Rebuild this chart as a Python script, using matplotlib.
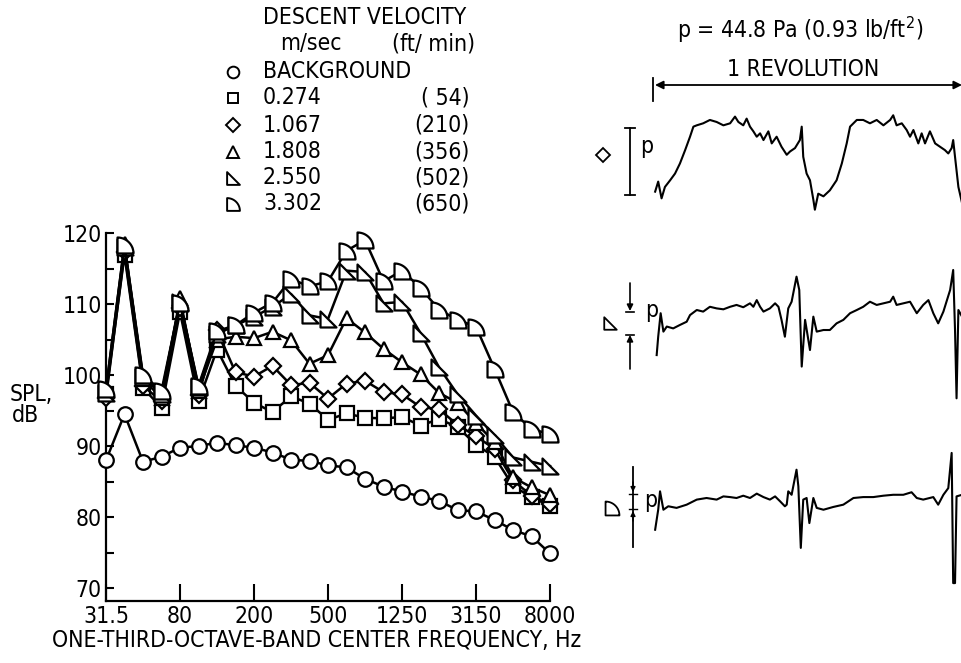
import numpy as np
import matplotlib
matplotlib.use('Agg')
import matplotlib.pyplot as plt
from matplotlib.path import Path

plt.rcParams['font.family'] = ['DejaVu Sans']
plt.rcParams['font.stretch'] = 'condensed'

# ---------------- data ----------------
bands = ['31.5', '40', '50', '63', '80', '100', '125', '160', '200', '250', '315', '400', '500',
         '630', '800', '1000', '1250', '1600', '2000', '2500', '3150', '4000', '5000', '6300', '8000']
tick_labels = ['31.5', '80', '200', '500', '1250', '3150', '8000']

spl_background = [88.0, 94.5, 87.8, 88.5, 89.8, 90.0, 90.5, 90.1, 89.8, 89.1, 88.1, 87.9, 87.3,
                  87.0, 85.4, 84.3, 83.6, 82.9, 82.3, 81.0, 80.8, 79.6, 78.2, 77.3, 74.9]
spl_v0274 = [97.3, 116.9, 98.2, 95.4, 108.9, 96.3, 103.6, 98.5, 96.1, 94.8, 97.0, 96.0, 93.7,
             94.6, 94.0, 93.9, 94.1, 92.9, 93.8, 92.7, 90.2, 88.5, 84.4, 82.8, 81.6]
spl_v1067 = [96.8, 117.3, 98.5, 96.3, 109.5, 97.2, 106.3, 100.4, 99.8, 101.3, 98.6, 98.9, 96.7,
             98.8, 99.2, 97.6, 97.3, 95.5, 95.2, 93.0, 91.4, 89.6, 85.2, 83.0, 81.9]
spl_v1808 = [98.0, 118.4, 99.4, 96.8, 110.8, 97.8, 105.0, 105.4, 105.2, 106.1, 104.9, 101.6, 102.8,
             108.0, 106.0, 103.7, 101.8, 100.1, 97.5, 96.1, 93.2, 90.6, 85.6, 84.2, 83.1]
spl_v2550 = [97.5, 118.0, 99.8, 97.3, 110.3, 98.3, 105.8, 107.0, 108.2, 109.6, 111.4, 108.4, 107.9,
             114.7, 114.5, 110.1, 110.3, 105.9, 101.1, 97.3, 94.3, 91.5, 88.4, 87.8, 87.2]
spl_v3302 = [98.0, 118.3, 100.0, 97.8, 110.2, 98.5, 106.2, 107.0, 108.8, 110.2, 113.5, 112.5, 113.2,
             117.5, 119.0, 113.2, 114.7, 112.3, 109.2, 107.8, 106.8, 100.9, 94.8, 92.4, 91.7]

legend_ms = ['BACKGROUND', '0.274', '1.067', '1.808', '2.550', '3.302']
legend_ft = ['', '( 54)', '(210)', '(356)', '(502)', '(650)']

# pressure traces (time in revolutions, pressure in units of p)
t_diamond = [0.007, 0.017, 0.028, 0.039, 0.056, 0.072, 0.088, 0.105, 0.121, 0.132, 0.143, 0.164, 0.186,
             0.208, 0.230, 0.252, 0.268, 0.279, 0.295, 0.306, 0.317, 0.328, 0.339, 0.350, 0.361, 0.377,
             0.388, 0.404, 0.420, 0.437, 0.448, 0.464, 0.480, 0.486, 0.491, 0.502, 0.513, 0.524, 0.529,
             0.540, 0.557, 0.578, 0.600, 0.617, 0.633, 0.644, 0.666, 0.687, 0.709, 0.731, 0.753, 0.775,
             0.785, 0.796, 0.813, 0.829, 0.840, 0.851, 0.867, 0.878, 0.889, 0.905, 0.922, 0.938, 0.954,
             0.965, 0.976, 0.981, 0.987, 0.998, 1.010]
p_diamond = [0.05, 0.20, -0.05, 0.12, 0.22, 0.32, 0.47, 0.67, 0.87, 1.02, 1.04, 1.07, 1.12,
             1.09, 1.04, 1.07, 1.17, 1.09, 1.04, 1.14, 1.02, 0.95, 0.87, 0.92, 0.82, 0.95,
             0.77, 0.87, 0.72, 0.60, 0.65, 0.70, 0.82, 1.02, 0.57, 0.32, 0.22, -0.07, -0.22,
             0.02, -0.02, 0.07, 0.22, 0.47, 0.77, 1.02, 1.12, 1.12, 1.07, 1.12, 1.04, 1.12,
             1.19, 1.04, 1.07, 0.97, 0.87, 0.97, 0.77, 0.92, 0.77, 0.95, 0.77, 0.72, 0.67,
             0.62, 0.70, 0.82, 0.57, 0.12, -0.12]

t_rtri = [0.012, 0.017, 0.025, 0.034, 0.045, 0.066, 0.088, 0.110, 0.121, 0.143, 0.164, 0.186, 0.208,
          0.230, 0.252, 0.273, 0.295, 0.317, 0.328, 0.339, 0.350, 0.361, 0.382, 0.399, 0.410, 0.420,
          0.431, 0.442, 0.453, 0.469, 0.478, 0.486, 0.497, 0.513, 0.524, 0.535, 0.557, 0.578, 0.600,
          0.622, 0.644, 0.666, 0.687, 0.709, 0.731, 0.753, 0.775, 0.785, 0.796, 0.818, 0.840, 0.862,
          0.883, 0.900, 0.916, 0.932, 0.949, 0.971, 0.981, 0.987, 0.992, 0.998, 1.010]
p_rtri = [-1.96, -1.16, -0.14, -0.94, -0.72, -0.80, -0.65, -0.51, -0.22, 0.00, -0.07, 0.14, 0.07,
          0.03, 0.14, 0.22, 0.12, 0.29, 0.14, 0.43, 0.14, -0.07, 0.07, 0.29, 0.14, -0.43,
          -1.16, 0.07, 0.36, 1.45, 0.87, -2.46, -0.43, -1.74, -0.29, -0.94, -0.87, -0.87, -0.58,
          -0.43, -0.14, 0.00, 0.14, 0.36, 0.22, 0.29, 0.36, 0.58, 0.22, 0.29, 0.36, -0.14,
          0.22, 0.43, -0.14, -0.58, -0.07, 0.87, 1.74, -0.87, -3.84, 0.00, -0.29]

t_semi = [0.007, 0.017, 0.023, 0.034, 0.050, 0.077, 0.110, 0.143, 0.175, 0.208, 0.230, 0.252, 0.273,
          0.295, 0.317, 0.339, 0.361, 0.382, 0.399, 0.415, 0.431, 0.437, 0.442, 0.453, 0.469, 0.475,
          0.483, 0.491, 0.502, 0.511, 0.524, 0.535, 0.557, 0.589, 0.622, 0.655, 0.687, 0.720, 0.753,
          0.785, 0.818, 0.845, 0.862, 0.883, 0.916, 0.932, 0.949, 0.965, 0.976, 0.981, 0.987, 0.992,
          1.010]
p_semi = [-1.38, -0.51, 0.29, -0.51, -0.36, -0.43, -0.29, -0.07, 0.00, -0.07, 0.07, 0.04, 0.00,
          0.10, 0.00, 0.19, 0.04, -0.07, 0.07, -0.14, -0.36, -0.29, 0.29, 0.14, 1.23, 0.51,
          -2.17, -0.07, 0.00, -1.09, 0.00, -0.43, -0.51, -0.39, -0.29, 0.00, 0.04, 0.04, 0.10,
          0.14, 0.14, 0.25, 0.00, -0.07, 0.04, -0.29, 0.14, 0.43, 1.96, -3.70, -3.70, 0.07,
          0.14]

# ---------------- markers ----------------
rtri_marker = Path([(-1, -1), (1, -1), (-1, 1), (-1, -1)],
                   [Path.MOVETO, Path.LINETO, Path.LINETO, Path.CLOSEPOLY])
ang = np.linspace(np.pi / 2, 0, 20)
semi_verts = [(-1, -1)] + [(-1 + 2 * np.cos(a), -1 + 2 * np.sin(a)) for a in ang] + [(-1, -1)]
semi_marker = Path(semi_verts, [Path.MOVETO] + [Path.LINETO] * 20 + [Path.CLOSEPOLY])

W, H = 962, 663
fig = plt.figure(figsize=(W / 100, H / 100), dpi=100)

# overlay for annotations (pixel coordinates)
ov = fig.add_axes([0, 0, 1, 1])
ov.set_xlim(0, W)
ov.set_ylim(H, 0)
ov.axis('off')

FS = 16.5

# ---------------- left: spectra ----------------
def px_axes(x0, y0, x1, y1):
    return fig.add_axes([x0 / W, 1 - y1 / H, (x1 - x0) / W, (y1 - y0) / H])

ax = px_axes(106, 222, 550, 601)
ax.set_facecolor('none')
x = np.arange(len(bands))
series = [
    (spl_background, 'o', 10.5),
    (spl_v0274, 's', 9.5),
    (spl_v1067, 'D', 8.5),
    (spl_v1808, '^', 10.5),
    (spl_v2550, rtri_marker, 11.5),
    (spl_v3302, semi_marker, 11.5),
]
for vals, m, ms in series:
    ax.plot(x, vals, color='black', lw=1.8, marker=m, ms=ms, mfc='white', mec='black', mew=1.6,
            clip_on=False, zorder=3)

ax.set_xlim(0, 24)
ax.set_ylim(68.2, 120 + (11 / 7.1))
for s in ['top', 'right']:
    ax.spines[s].set_visible(False)
for s in ['left', 'bottom']:
    ax.spines[s].set_linewidth(1.6)
ax.spines['left'].set_bounds(68.2, 120)
ax.set_yticks([70, 80, 90, 100, 110, 120])
ax.set_yticks([75, 85, 95, 105, 115], minor=True)
ax.set_yticklabels(['70', '80', '90', '100', '110', '120'], fontsize=FS)
ax.set_xticks([bands.index(b) for b in tick_labels])
ax.set_xticklabels(tick_labels, fontsize=FS)
ax.tick_params(axis='y', which='major', direction='in', length=6, width=1.5, pad=3)
ax.tick_params(axis='y', which='minor', direction='in', length=6, width=1.5)
ax.tick_params(axis='x', which='major', direction='in', length=12, width=1.5, pad=3)

ov.text(10, 394, 'SPL,', fontsize=FS, ha='left', va='center')
ov.text(12, 415, 'dB', fontsize=FS, ha='left', va='center')
ov.text(317, 641, 'ONE-THIRD-OCTAVE-BAND CENTER FREQUENCY, Hz', fontsize=FS, ha='center', va='center')

# legend block
ov.text(263, 17, 'DESCENT VELOCITY', fontsize=FS, ha='left', va='center')
ov.text(280, 44, 'm/sec', fontsize=FS, ha='left', va='center')
ov.text(475, 44, '(ft/ min)', fontsize=FS, ha='right', va='center')
row_y = [72, 98, 125, 152, 178, 204]
for (vals, m, ms), lab, ft, yy in zip(series, legend_ms, legend_ft, row_y):
    ov.plot([233], [yy], marker=m, ms=ms * 0.8, mfc='white', mec='black', mew=1.4, ls='none')
    ov.text(263, yy, lab, fontsize=FS, ha='left', va='center')
    if ft:
        ov.text(470, yy, ft, fontsize=FS, ha='right', va='center')

# ---------------- right: pressure traces ----------------
ov.text(800, 30, r'p = 44.8 Pa (0.93 lb/ft$^{2}$)', fontsize=FS, ha='center', va='center')
ov.text(803, 70, '1 REVOLUTION', fontsize=FS, ha='center', va='center')
ov.annotate('', xy=(655, 85), xytext=(962, 85),
            arrowprops=dict(arrowstyle='<|-|>', color='black', lw=1.3, mutation_scale=12,
                            shrinkA=0, shrinkB=0))
ov.plot([653, 653], [78, 101], color='black', lw=1.3)

traces = [
    (t_diamond, p_diamond, 195, 67, 110, 220),
    (t_rtri, p_rtri, 310, 23, 265, 410),
    (t_semi, p_semi, 498, 23, 445, 592),
]
for t, p, y0, scale, ytop, ybot in traces:
    tax = px_axes(653, ytop, 962, ybot)
    tax.set_facecolor('none')
    tax.plot(t, p, color='black', lw=1.5, clip_on=False)
    tax.set_xlim(0, (962 - 653) / 306)
    tax.set_ylim((y0 - ybot) / scale, (y0 - ytop) / scale)
    tax.axis('off')

# scale bars and symbols
# trace 1
ov.plot([630, 630], [128, 195], color='black', lw=1.3)
ov.plot([625, 635], [128, 128], color='black', lw=1.3)
ov.plot([625, 635], [195, 195], color='black', lw=1.3)
ov.text(640, 147, 'p', fontsize=FS, ha='left', va='center')
ov.plot([603], [155], marker='D', ms=7, mfc='white', mec='black', mew=1.3)
# trace 2
ov.annotate('', xy=(630, 311), xytext=(630, 283),
            arrowprops=dict(arrowstyle='-|>', color='black', lw=1.2, mutation_scale=9, shrinkA=0, shrinkB=0))
ov.annotate('', xy=(630, 335), xytext=(630, 369),
            arrowprops=dict(arrowstyle='-|>', color='black', lw=1.2, mutation_scale=9, shrinkA=0, shrinkB=0))
ov.plot([626, 634], [312, 312], color='black', lw=1.2)
ov.plot([626, 634], [335, 335], color='black', lw=1.2)
ov.text(645, 310, 'p', fontsize=FS, ha='left', va='center')
ov.plot([610], [323], marker=rtri_marker, ms=9, mfc='white', mec='black', mew=1.3)
# trace 3
ov.plot([633, 633], [467, 547], color='black', lw=1.3)
ov.annotate('', xy=(633, 492), xytext=(633, 482),
            arrowprops=dict(arrowstyle='-|>', color='black', lw=1.0, mutation_scale=7, shrinkA=0, shrinkB=0))
ov.annotate('', xy=(633, 511), xytext=(633, 521),
            arrowprops=dict(arrowstyle='-|>', color='black', lw=1.0, mutation_scale=7, shrinkA=0, shrinkB=0))
ov.plot([629, 637], [494, 494], color='black', lw=1.0)
ov.plot([629, 637], [509, 509], color='black', lw=1.0)
ov.text(644, 500, 'p', fontsize=FS, ha='left', va='center')
ov.plot([612], [508], marker=semi_marker, ms=10, mfc='white', mec='black', mew=1.3)

fig.savefig('out.png', dpi=100)
